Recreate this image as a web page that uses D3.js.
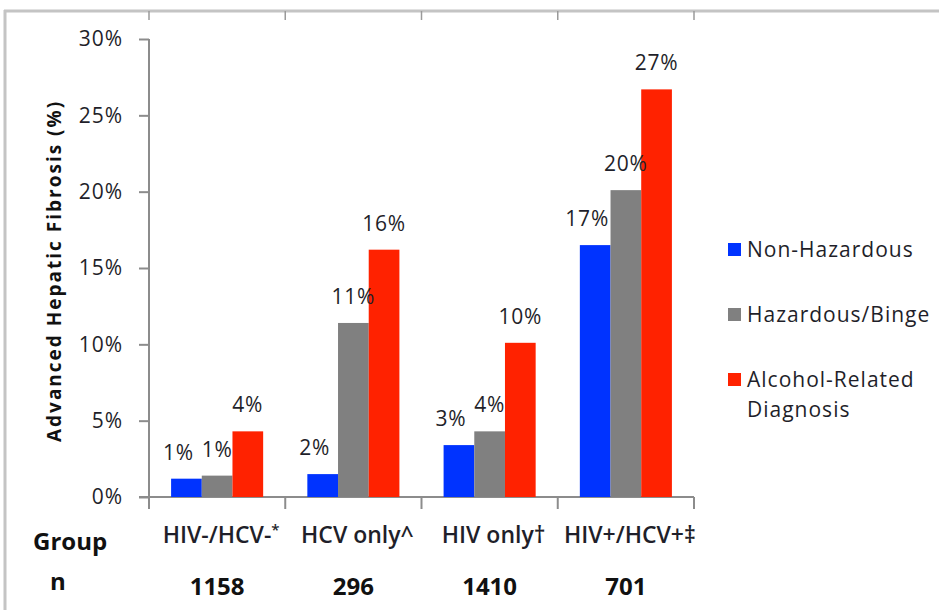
<!DOCTYPE html>
<html>
<head>
<meta charset="utf-8">
<script src="https://cdn.jsdelivr.net/npm/d3@7"></script>
<style>
  html, body { margin: 0; padding: 0; background: #fff; }
  svg { display: block; font-family: "Open Sans", Lato, sans-serif; }
</style>
</head>
<body>
<svg id="chart" width="939" height="610"></svg>
<script>
// ---- data ----
const groups = ["HIV-/HCV-", "HCV only", "HIV only", "HIV+/HCV+"];
const groupMarks = ["*", "^", "\u2020", "\u2021"];
const groupN = [1158, 296, 1410, 701];
const seriesNames = ["Non-Hazardous", "Hazardous/Binge", "Alcohol-Related Diagnosis"];
const nonHazardous = [1.2, 1.5, 3.4, 16.5];
const hazardousBinge = [1.4, 11.4, 4.3, 20.1];
const alcoholRelated = [4.3, 16.2, 10.1, 26.7];
const yTicks = [0, 5, 10, 15, 20, 25, 30];
const seriesColors = ["#0033ff", "#808080", "#ff2200"];

const seriesValues = [nonHazardous, hazardousBinge, alcoholRelated];

const svg = d3.select("#chart");
const textColor = "#1f1f2a";
const labelShift = [-8, 0, 0]; // small horizontal nudge of data labels per series (style)

// frame (slide border)
const frame = svg.append("g");
frame.append("line").attr("x1", 4).attr("x2", 939).attr("y1", 11).attr("y2", 11)
  .attr("stroke", "#c4c4c4").attr("stroke-width", 3);
frame.append("line").attr("x1", 5).attr("x2", 5).attr("y1", 10).attr("y2", 610)
  .attr("stroke", "#c4c4c4").attr("stroke-width", 3);

// scales
const x0 = d3.scaleBand().domain(groups).range([149, 694]).paddingInner(0).paddingOuter(0);
const x1 = d3.scaleBand().domain(seriesNames).range([0, x0.bandwidth()]).paddingInner(0).paddingOuter(0.72);
const y = d3.scaleLinear().domain([0, 30]).range([497, 39]);

// top frame ticks at category boundaries
const bounds = groups.map(g => x0(g)).concat([x0(groups[groups.length - 1]) + x0.bandwidth()]);
frame.selectAll("line.ft").data(bounds).enter().append("line")
  .attr("x1", d => d).attr("x2", d => d).attr("y1", 11).attr("y2", 20)
  .attr("stroke", "#9a9a9a").attr("stroke-width", 1.5);

// y axis
const yAxis = d3.axisLeft(y).tickValues(yTicks).tickFormat(d => d + "%").tickSize(10).tickPadding(16);
const gy = svg.append("g").attr("transform", "translate(149,0)").call(yAxis);
gy.select(".domain").attr("stroke", "#8c8c8c").attr("stroke-width", 2).attr("d", "M0,39V497");
gy.selectAll(".tick line").attr("stroke", "#8c8c8c").attr("stroke-width", 2);
gy.selectAll(".tick text").attr("fill", textColor).attr("font-size", 21)
  .attr("letter-spacing", 1)
  .attr("font-family", "'Open Sans', sans-serif");

// x axis line with boundary ticks
const gx = svg.append("g");
gx.append("line").attr("x1", 139).attr("x2", 694).attr("y1", 497).attr("y2", 497)
  .attr("stroke", "#8c8c8c").attr("stroke-width", 2);
gx.selectAll("line.bt").data(bounds).enter().append("line")
  .attr("x1", d => d).attr("x2", d => d).attr("y1", 497).attr("y2", 509)
  .attr("stroke", "#8c8c8c").attr("stroke-width", 2);

// bars
const gGroups = svg.append("g").selectAll("g").data(groups).enter().append("g")
  .attr("transform", g => `translate(${x0(g)},0)`);

gGroups.each(function(g, gi) {
  const sel = d3.select(this);
  const rows = seriesNames.map((s, si) => ({ s, si, v: seriesValues[si][gi] }));
  sel.selectAll("rect").data(rows).enter().append("rect")
    .attr("x", d => x1(d.s))
    .attr("y", d => y(d.v))
    .attr("width", x1.bandwidth())
    .attr("height", d => y(0) - y(d.v))
    .attr("fill", d => seriesColors[d.si]);
  sel.selectAll("text").data(rows).enter().append("text")
    .attr("x", d => x1(d.s) + x1.bandwidth() / 2 + labelShift[d.si])
    .attr("y", d => y(d.v) - 19)
    .attr("text-anchor", "middle")
    .attr("font-size", 21)
    .attr("letter-spacing", 0.8)
    .attr("fill", textColor)
    .text(d => Math.round(d.v) + "%");
});

// y axis title
svg.append("text")
  .attr("transform", "translate(61,271) rotate(-90)")
  .attr("text-anchor", "middle")
  .attr("font-size", 19)
  .attr("font-weight", 700)
  .attr("letter-spacing", 2)
  .attr("fill", "#111")
  .text("Advanced Hepatic Fibrosis (%)");

// category labels
const cat = svg.append("g").selectAll("text").data(groups).enter().append("text")
  .attr("x", g => x0(g) + x0.bandwidth() / 2 + 4)
  .attr("y", 543)
  .attr("text-anchor", "middle")
  .attr("font-size", 23)
  .attr("font-weight", 600)
  .attr("fill", textColor);
cat.append("tspan").text(g => g);
cat.append("tspan")
  .attr("font-size", (g, i) => groupMarks[i] === "*" ? 15 : 23)
  .attr("dy", (g, i) => groupMarks[i] === "*" ? -8 : 0)
  .text((g, i) => groupMarks[i]);

// n values
svg.append("g").selectAll("text").data(groups).enter().append("text")
  .attr("x", g => x0(g) + x0.bandwidth() / 2)
  .attr("y", 595)
  .attr("text-anchor", "middle")
  .attr("font-size", 24)
  .attr("font-weight", 700)
  .attr("fill", "#111")
  .text((g, i) => groupN[i]);

// row headers
svg.append("text").attr("x", 33).attr("y", 550).attr("font-size", 24).attr("font-weight", 700)
  .attr("fill", "#111").text("Group");
svg.append("text").attr("x", 50).attr("y", 590).attr("font-size", 24).attr("font-weight", 700)
  .attr("fill", "#111").text("n");

// legend
const legendY = [257, 322, 387];
const leg = svg.append("g").selectAll("g").data(seriesNames).enter().append("g");
leg.append("rect")
  .attr("x", 728).attr("y", (d, i) => legendY[i] - 14)
  .attr("width", 13).attr("height", 13)
  .attr("fill", (d, i) => seriesColors[i]);
const lt = leg.append("text")
  .attr("x", 747).attr("y", (d, i) => legendY[i])
  .attr("font-size", 21)
  .attr("letter-spacing", 1)
  .attr("fill", textColor);
lt.each(function(d) {
  const t = d3.select(this);
  const parts = d === "Alcohol-Related Diagnosis" ? ["Alcohol-Related", "Diagnosis"] : [d];
  parts.forEach((p, k) => {
    t.append("tspan").attr("x", 747).attr("dy", k === 0 ? 0 : 30).text(p);
  });
});
</script>
</body>
</html>
